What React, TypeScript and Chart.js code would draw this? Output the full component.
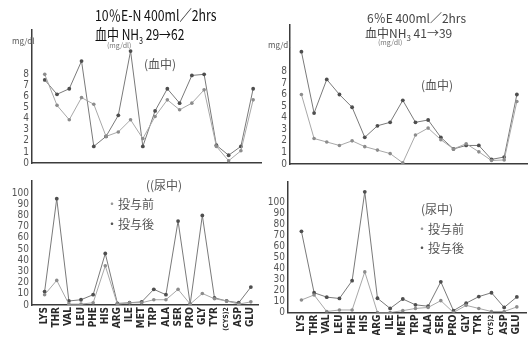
import React, { useEffect, useRef } from 'react';
import { Chart, registerables } from 'chart.js';
Chart.register(...registerables);

const categories = ['LYS', 'THR', 'VAL', 'LEU', 'PHE', 'HIS', 'ARG', 'ILE', 'MET', 'TRP', 'ALA', 'SER', 'PRO', 'GLY', 'TYR', '(CYS)2', 'ASP', 'GLU'];

// 10% E-N : blood (mg/dl)
const leftBloodBefore = [8.0, 5.2, 3.9, 5.9, 5.3, 2.4, 2.8, 3.9, 2.2, 4.2, 5.7, 4.8, 5.4, 6.6, 1.5, 0.2, 1.1, 5.7];
const leftBloodAfter = [7.5, 6.2, 6.7, 9.2, 1.5, 2.4, 4.3, 10.1, 1.5, 4.7, 6.7, 5.4, 7.9, 8.0, 1.6, 0.7, 1.5, 6.7];
// 10% E-N : urine
const leftUrineBefore = [9.2, 22, 0.8, 0.8, 2, 35, 0.8, 2, 2, 4.7, 4.7, 14, 0.8, 10.3, 5.6, 3.6, 0.8, 2.8];
const leftUrineAfter = [12, 95, 3.6, 4.7, 9.2, 46, 1.4, 2, 2.8, 14, 9.2, 75, 0.8, 80, 6.4, 3.6, 2, 16];
// 6% E : blood
const rightBloodBefore = [6.0, 2.2, 1.9, 1.6, 2.0, 1.5, 1.2, 0.9, 0.1, 2.5, 3.1, 2.1, 1.3, 1.75, 1.05, 0.3, 0.35, 5.4];
const rightBloodAfter = [9.7, 4.4, 7.3, 6.0, 4.9, 2.3, 3.3, 3.6, 5.5, 3.6, 3.8, 2.3, 1.3, 1.6, 1.6, 0.4, 0.6, 6.0];
// 6% E : urine
const rightUrineBefore = [11.4, 16, 0.9, 2.3, 2.3, 37, 0, 0, 1.7, 3.7, 4.6, 10.8, 0, 6.5, 3.7, 0.9, 0.9, 5.1];
const rightUrineAfter = [74, 18, 14, 12.8, 29, 110, 13, 3.7, 12.3, 7, 5.7, 28, 1.7, 8.5, 14.5, 18, 4.6, 14.2];

const bloodTickMax = 8;
const urineTickMax = 100;

const NARROW = "'DejaVu Sans Condensed', 'Liberation Sans', sans-serif";
const JP = "'Noto Sans CJK JP', sans-serif";

type Spec = {
  left: number; top: number; width: number; height: number;
  padTop: number; padBottom: number;
  yWidth: number; xHeight: number;
  xMin: number; xMax: number; yMax: number; step: number; tickMax: number;
  before: number[]; after: number[]; showX: boolean;
};

function LineChart({ spec }: { spec: Spec }) {
  const ref = useRef<HTMLCanvasElement>(null);
  useEffect(() => {
    const toPts = (arr: number[]) => arr.map((v, i) => ({ x: i, y: v }));
    const chart = new Chart(ref.current!, {
      type: 'line',
      data: {
        datasets: [
          {
            label: '投与前', data: toPts(spec.before), borderColor: '#a8a8a8', backgroundColor: '#8c8c8c',
            borderWidth: 1, pointRadius: 1.8, pointBorderWidth: 0, tension: 0,
          },
          {
            label: '投与後', data: toPts(spec.after), borderColor: '#7a7a7a', backgroundColor: '#4e4e4e',
            borderWidth: 1, pointRadius: 1.9, pointBorderWidth: 0, tension: 0,
          },
        ],
      },
      options: {
        animation: false,
        responsive: false,
        maintainAspectRatio: false,
        layout: { padding: { top: spec.padTop, bottom: spec.padBottom, left: 0, right: 0 } },
        plugins: { legend: { display: false }, tooltip: { enabled: false } },
        scales: {
          x: {
            type: 'linear', min: spec.xMin, max: spec.xMax,
            grid: { display: false, drawTicks: false },
            border: { display: true, color: '#3c3c3c', width: 1.5 },
            afterBuildTicks: (s: any) => { s.ticks = categories.map((_, i) => ({ value: i })); },
            ticks: {
              display: spec.showX, autoSkip: false, maxRotation: 90, minRotation: 90, padding: 2,
              color: '#2a2a2a',
              callback: (v: any) => categories[v as number] ?? '',
              font: (ctx: any) => ({
                family: NARROW, weight: 'bold',
                size: ctx.tick && categories[ctx.tick.value] === '(CYS)2' ? 7 : 10,
              }),
            },
            afterFit: (s: any) => { s.height = spec.xHeight; },
          },
          y: {
            min: 0, max: spec.yMax,
            grid: { display: false, drawTicks: false },
            border: { display: true, color: '#3c3c3c', width: 1.5 },
            ticks: {
              stepSize: spec.step, padding: 3, color: '#555', autoSkip: false,
              font: { family: NARROW, size: 10 },
              callback: (v: any) => (v <= spec.tickMax && Math.abs(v % spec.step) < 1e-6 ? String(v) : ''),
            },
            afterFit: (s: any) => { s.width = spec.yWidth; },
          },
        },
      },
    });
    return () => chart.destroy();
  }, []);
  return (
    <canvas
      ref={ref}
      width={spec.width}
      height={spec.height}
      style={{ position: 'absolute', left: spec.left, top: spec.top, width: spec.width, height: spec.height }}
    />
  );
}

const specs: Spec[] = [
  {
    left: 0, top: 0, width: 265, height: 172, padTop: 30, padBottom: 1, yWidth: 32, xHeight: 0,
    xMin: -1.04, xMax: 17.64, yMax: 12, step: 1, tickMax: bloodTickMax,
    before: leftBloodBefore, after: leftBloodAfter, showX: false,
  },
  {
    left: 0, top: 172, width: 265, height: 163, padTop: 0, padBottom: 0, yWidth: 32, xHeight: 30,
    xMin: -1.04, xMax: 17.64, yMax: 110.8, step: 10, tickMax: urineTickMax,
    before: leftUrineBefore, after: leftUrineAfter, showX: true,
  },
  {
    left: 265, top: 0, width: 266, height: 173, padTop: 25, padBottom: 1, yWidth: 25, xHeight: 0,
    xMin: -0.9, xMax: 17.8, yMax: 12, step: 1, tickMax: bloodTickMax,
    before: rightBloodBefore, after: rightBloodAfter, showX: false,
  },
  {
    left: 265, top: 173, width: 266, height: 162, padTop: 0, padBottom: 0, yWidth: 23, xHeight: 22.5,
    xMin: -1.06, xMax: 17.78, yMax: 119, step: 10, tickMax: urineTickMax,
    before: rightUrineBefore, after: rightUrineAfter, showX: true,
  },
];

function Txt({ x, y, size, color = '#333', children, family = JP, sx = 1 }: any) {
  return (
    <div style={{
      position: 'absolute', left: x, top: y, fontSize: size, lineHeight: 1, color,
      fontFamily: family, whiteSpace: 'nowrap', transform: `scaleX(${sx})`, transformOrigin: 'left top',
    }}>{children}</div>
  );
}

export default function App() {
  return (
    <div style={{ position: 'fixed', left: 0, top: 0, width: 531, height: 340, background: '#fff', overflow: 'hidden' }}>
      {specs.map((s, i) => <LineChart key={i} spec={s} />)}

      <Txt x={95} y={7} size={15} sx={0.82} color="#111">10％E-N 400ml／2hrs</Txt>
      <Txt x={95} y={26} size={15} sx={0.8} color="#111">血中 NH<sub style={{ fontSize: 9 }}>3</sub> 29→62</Txt>
      <Txt x={107} y={42} size={7} color="#777">(mg/dl)</Txt>
      <Txt x={12} y={37} size={8} color="#555">mg/dl</Txt>
      <Txt x={144} y={58} size={12} color="#555">(血中)</Txt>
      <Txt x={146} y={179} size={12} color="#555">((尿中)</Txt>
      <Txt x={106} y={198} size={12} color="#555"><span style={{ color: '#999' }}>・</span>投与前</Txt>
      <Txt x={106} y={218} size={12} color="#555"><span style={{ color: '#555' }}>・</span>投与後</Txt>

      <Txt x={367} y={12} size={12} color="#444">6％E 400ml／2hrs</Txt>
      <Txt x={365} y={27} size={12} color="#444">血中NH<sub style={{ fontSize: 8 }}>3</sub> 41→39</Txt>
      <Txt x={378} y={39} size={7} color="#777">(mg/dl)</Txt>
      <Txt x={268} y={41} size={8} color="#555">mg/dl</Txt>
      <Txt x={421} y={79} size={12} color="#555">(血中)</Txt>
      <Txt x={421} y={203} size={12} color="#555">(尿中)</Txt>
      <Txt x={416} y={223} size={12} color="#555"><span style={{ color: '#999' }}>・</span>投与前</Txt>
      <Txt x={416} y={242} size={12} color="#555"><span style={{ color: '#555' }}>・</span>投与後</Txt>
    </div>
  );
}
